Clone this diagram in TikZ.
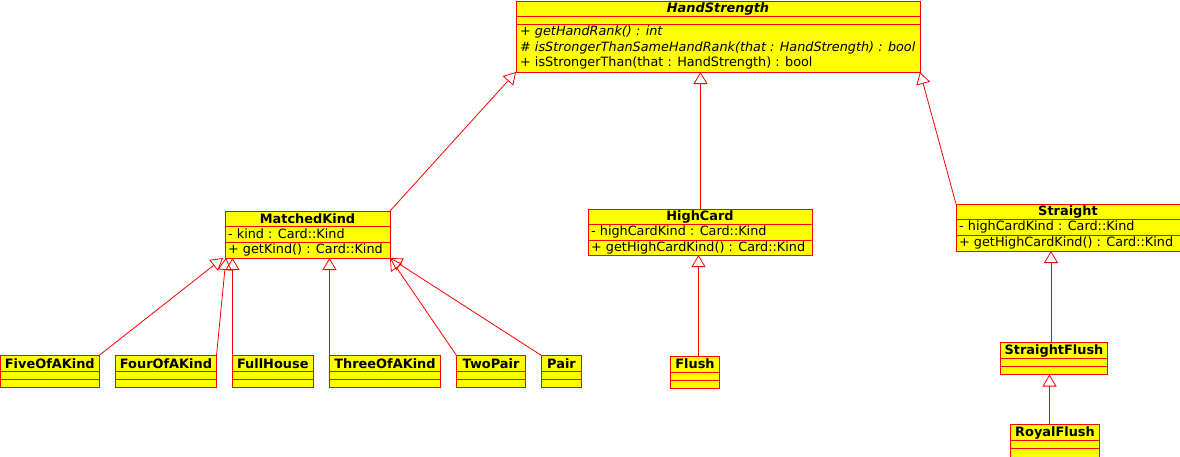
\documentclass[tikz,border=0pt]{standalone}
\usepackage{fontspec}
\setmainfont{DejaVu Sans}
\usetikzlibrary{arrows.meta,calc}
\definecolor{umlred}{RGB}{255,0,0}
\definecolor{umlyellow}{RGB}{255,255,0}

% UML class box: name, left, top, right, bottom, first separator, second separator
\newcommand\umlclass[7]{%
  \node[classbox, anchor=north west,
        minimum width={(#4-#2)*1pt}, minimum height={(#5-#3)*1pt}] (#1) at (#2,#3) {};
  \draw[sepline] (#2,#6) -- (#4,#6);
  \draw[sepline] (#2,#7) -- (#4,#7);
}

\begin{document}
\begin{tikzpicture}[x=1pt,y=-1pt,
  classbox/.style={draw=umlred, fill=umlyellow, line width=1pt, inner sep=0pt, outer sep=0pt},
  sepline/.style={draw=umlred, line width=1pt},
  title/.style={font=\fontsize{12.9}{15}\selectfont\bfseries, inner sep=0pt, anchor=center},
  member/.style={font=\fontsize{12.8}{15}\selectfont, inner sep=0pt, anchor=west},
  inherit/.style={draw=umlred, line width=0.8pt, -{Triangle[open, length=12pt, width=14pt]}},
]
\useasboundingbox (0,0) rectangle (1180,456);

% abstract base class
\umlclass{hs}{516}{1}{920}{72}{16}{24}
\node[title, font=\fontsize{12.9}{15}\selectfont\bfseries\itshape] (hst) at (718,8.5) {HandStrength};
\node[member, font=\fontsize{12.8}{15}\selectfont\itshape] (hs1) at (520,32) {+ getHandRank() : int};
\node[member, font=\fontsize{12.8}{15}\selectfont\itshape] (hs2) at (520,47.5) {\# isStrongerThanSameHandRank(that : HandStrength) : bool};
\node[member] (hs3) at (520,63) {+ isStrongerThan(that : HandStrength) : bool};

% intermediate classes
\umlclass{mk}{225}{211}{390}{258}{226}{242}
\node[title] (mkt) at (307.5,218.5) {MatchedKind};
\node[member] (mk1) at (228,233.8) {- kind : Card::Kind};
\node[member] (mk2) at (228,250) {+ getKind() : Card::Kind};

\umlclass{hc}{588}{209}{812}{255}{224}{240}
\node[title] (hct) at (700,216.5) {HighCard};
\node[member] (hc1) at (591,232) {- highCardKind : Card::Kind};
\node[member] (hc2) at (591,247.5) {+ getHighCardKind() : Card::Kind};

\umlclass{st}{956}{204}{1180}{251}{219}{235}
\node[title] (stt) at (1068,211.5) {Straight};
\node[member] (st1) at (959,227) {- highCardKind : Card::Kind};
\node[member] (st2) at (959,243) {+ getHighCardKind() : Card::Kind};

% concrete hands
\umlclass{five}{0.6}{355.5}{99}{387.5}{371.5}{379.5}
\node[title] (fivet) at (49.8,363.5) {FiveOfAKind};
\umlclass{four}{115.5}{355.5}{216.5}{387.5}{371.5}{379.5}
\node[title] (fourt) at (166,363.5) {FourOfAKind};
\umlclass{fh}{232.5}{355.5}{313}{387.5}{371.5}{379.5}
\node[title] (fht) at (272.75,363.5) {FullHouse};
\umlclass{three}{329.5}{355.5}{440.5}{387.5}{371.5}{379.5}
\node[title] (threet) at (385,363.5) {ThreeOfAKind};
\umlclass{tp}{456.5}{355.5}{525.5}{387.5}{371.5}{379.5}
\node[title] (tpt) at (491,363.5) {TwoPair};
\umlclass{pair}{541.5}{355.5}{581.5}{387.5}{371.5}{379.5}
\node[title] (pairt) at (561.5,363.5) {Pair};
\umlclass{flush}{670.5}{356}{719.5}{388}{372.5}{380.5}
\node[title] (flusht) at (695,364) {Flush};
\umlclass{sf}{1000.5}{342.5}{1107.5}{374.5}{358.5}{366.5}
\node[title] (sft) at (1054,350.5) {StraightFlush};
\umlclass{rf}{1010.5}{424.5}{1099.5}{457.5}{440.5}{448.5}
\node[title] (rft) at (1055,432.5) {RoyalFlush};

% generalisations
\draw[inherit] (mk.north east) -- (hs.south west);
\draw[inherit] ($(hc.north)+(0.5,0)$) -- ($(hc.north |- hs.south)+(0.5,0)$);
\draw[inherit] (st.north west) -- (hs.south east);

\draw[inherit] (five.north east) -- ($(mk.south west)+(-2,0)$);
\draw[inherit] (four.north east) -- ($(mk.south west)+(1,0)$);
\draw[inherit] (fh.north west) -- (fh.north west |- mk.south);
\draw[inherit] (three.north west) -- (three.north west |- mk.south);
\draw[inherit] (tp.north west) -- (mk.south east);
\draw[inherit] (pair.north west) -- (mk.south east);

\draw[inherit] ($(flush.north)+(3.5,0)$) -- ($(flush.north |- hc.south)+(3.5,0)$);
\draw[inherit] ($(sf.north)+(-3,0)$) -- ($(sf.north |- st.south)+(-3,0)$);
\draw[inherit] ($(rf.north)+(-5.5,0)$) -- ($(rf.north |- sf.south)+(-5.5,0)$);
\end{tikzpicture}
\end{document}
